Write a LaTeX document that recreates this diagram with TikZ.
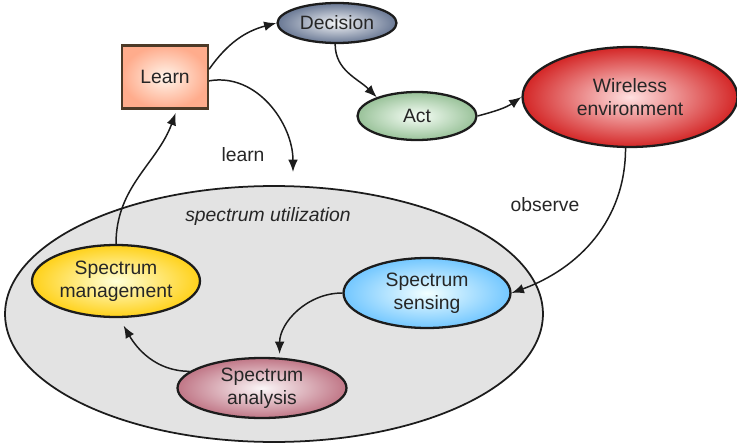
\documentclass[tikz,border=0pt]{standalone}
\usepackage{fontspec}
\setmainfont{Liberation Sans}
\usetikzlibrary{shapes.geometric,arrows.meta}
\definecolor{edge}{HTML}{1C1C1C}
\definecolor{slate}{RGB}{105,120,148}
\definecolor{mauve}{RGB}{192,118,134}
\tikzset{
  >={Latex[length=7pt,width=5.5pt]},
}
\tikzstyle{every node}=[font=\fontsize{11}{13}\selectfont,text=black!85]
\tikzstyle{oval}=[ellipse,draw=edge,line width=1.3pt,shading=radial,align=center,inner sep=0pt]
\tikzstyle{flow}=[line width=0.85pt,->,draw=edge]

\begin{document}
\begin{tikzpicture}[x=0.02cm,y=0.02cm]
    \useasboundingbox (0,0) rectangle (737,447);
    \node[ellipse,draw=edge,line width=1pt,fill=black!11,minimum width=10.76cm,minimum height=5.12cm] (util) at (274,133) {};
    \node[font=\fontsize{11}{13}\selectfont\itshape] (utillabel) at (268,230) {spectrum utilization};
    \node[rectangle,draw=edge!70!brown,line width=1.3pt,shading=radial,inner color=orange!8,outer color=orange!55!red!45,minimum width=1.72cm,minimum height=1.26cm] (learnbox) at (165,370) {Learn};
    \node[oval,inner color=slate!8,outer color=slate,minimum width=2.38cm,minimum height=0.8cm] (decision) at (337,424) {Decision};
    \node[oval,inner color=green!3,outer color=green!40!black!40,minimum width=2.38cm,minimum height=0.96cm] (act) at (417,331) {Act};
    \node[oval,inner color=red!12,outer color=red!80!black!85,minimum width=4.3cm,minimum height=2cm] (wireless) at (630,350) {Wireless\\environment};
    \node[oval,inner color=cyan!5,outer color=cyan!60!blue!55,minimum width=3.34cm,minimum height=1.4cm] (sensing) at (427,154) {Spectrum\\sensing};
    \node[oval,inner color=yellow!15,outer color=orange!40!yellow!90,minimum width=3.36cm,minimum height=1.44cm] (management) at (116,166) {Spectrum\\management};
    \node[oval,inner color=mauve!6,outer color=mauve,minimum width=3.38cm,minimum height=1.2cm] (analysis) at (262,59) {Spectrum\\analysis};
    \node (learnlabel) at (243,292) {learn};
    \node (observelabel) at (545,242) {observe};
    \coordinate (learnend) at (293,275);
    \draw[flow] (learnbox.10) to[out=55,in=195] (decision.west);
    \draw[flow] (learnbox.-5) to[out=10,in=90] (learnend);
    \draw[flow] (decision.-95) to[out=-90,in=135] (act.155);
    \draw[flow] (act.east) to[out=15,in=215] (wireless.west);
    \draw[flow] (wireless.-95) to[out=-90,in=20] (sensing.east);
    \draw[flow,shorten >=2pt] (sensing.west) to[out=180,in=90] (analysis.60);
    \draw[flow,shorten >=5pt] (analysis.167) to[out=180,in=-60] (management.-85);
    \draw[flow,shorten >=2pt] (management.north) to[out=90,in=-110] (learnbox.-70);
  \end{tikzpicture}
\end{document}
